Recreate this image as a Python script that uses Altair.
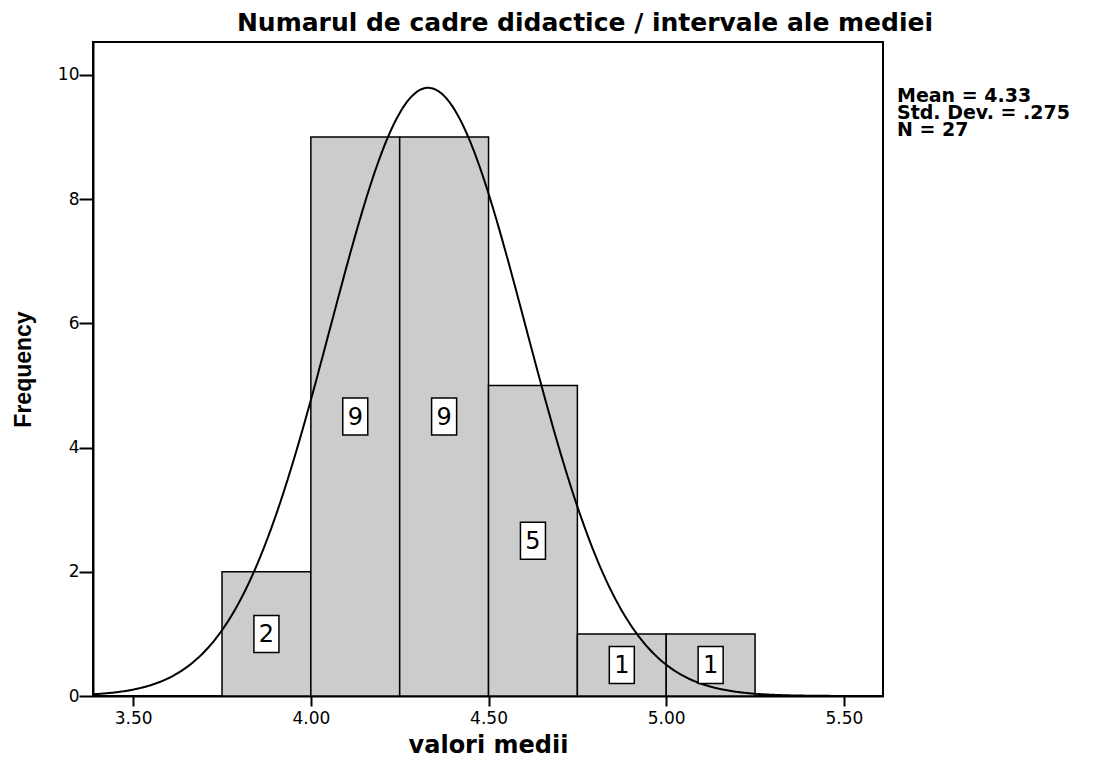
import altair as alt
import pandas as pd

# Data
bin_start = [3.75, 4.00, 4.25, 4.50, 4.75, 5.00]
bin_end = [4.00, 4.25, 4.50, 4.75, 5.00, 5.25]
counts = [2, 9, 9, 5, 1, 1]
x_ticks = [3.5, 4.0, 4.5, 5.0, 5.5]
y_ticks = [0, 2, 4, 6, 8, 10]
MEAN = 4.33
SD = 0.275
N = 27
BIN_W = 0.25
stats_lines = ["Mean = 4.33", "Std. Dev. = .275", "N = 27"]
title_text = "Numarul de cadre didactice / intervale ale mediei"

X_DOM = [3.387, 5.61]
Y_DOM = [0, 10.53]
W, H = 790, 654

bars = pd.DataFrame({"start": bin_start, "end": bin_end, "count": counts})
bars["mid"] = (bars["start"] + bars["end"]) / 2
bars["half"] = bars["count"] / 2
bars["label"] = bars["count"].astype(str)

xs = alt.Scale(domain=X_DOM, nice=False, zero=False)
ys = alt.Scale(domain=Y_DOM, nice=False, zero=True)

FONT = "Liberation Sans"
WIDE = "DejaVu Sans"

x_axis = alt.Axis(values=x_ticks, format=".2f", title="valori medii", grid=False,
                  tickSize=10, tickWidth=2, tickColor="black", domainColor="black",
                  domainWidth=2, labelFont=WIDE, labelFontSize=17, labelColor="black",
                  labelPadding=4, titleFont=WIDE, titleFontSize=24, titleFontWeight="bold",
                  titleColor="black", titlePadding=7)
y_axis = alt.Axis(values=y_ticks, format="d", title="Frequency", grid=False,
                  tickSize=14, tickWidth=2, tickColor="black", domainColor="black",
                  domainWidth=2, labelFont=WIDE, labelFontSize=17, labelColor="black",
                  labelPadding=0, titleFont=FONT, titleFontSize=23, titleFontWeight="bold",
                  titleColor="black", titlePadding=22)

hist = alt.Chart(bars).mark_rect(fill="#cccccc", stroke="black", strokeWidth=1.5).encode(
    x=alt.X("start:Q", scale=xs, axis=x_axis),
    x2="end:Q",
    y=alt.Y("count:Q", scale=ys, axis=y_axis),
    y2=alt.datum(0),
)

box = alt.Chart(bars).mark_point(
    shape="M-0.676,-1L0.676,-1L0.676,1L-0.676,1Z", size=1369,
    filled=True, fill="white", stroke="black", strokeWidth=1.5, opacity=1,
).encode(x=alt.X("mid:Q", scale=xs), y=alt.Y("half:Q", scale=ys))

labels = alt.Chart(bars).mark_text(font=WIDE, fontSize=24, color="black", baseline="middle",
                                   align="center", dy=1).encode(
    x=alt.X("mid:Q", scale=xs), y=alt.Y("half:Q", scale=ys), text="label:N")

curve = alt.Chart(alt.sequence(X_DOM[0], X_DOM[1] + 0.001, 0.004, as_="x")).transform_calculate(
    y=f"{N}*{BIN_W}/({SD}*sqrt(2*PI))*exp(-0.5*pow((datum.x-{MEAN})/{SD},2))"
).mark_line(color="black", strokeWidth=2).encode(
    x=alt.X("x:Q", scale=xs), y=alt.Y("y:Q", scale=ys))

stats = pd.DataFrame({"t": ["\n".join(stats_lines)]})
stats_text = alt.Chart(stats).mark_text(font=WIDE, fontWeight="bold", fontSize=19,
                                        lineBreak="\n", lineHeight=16.8,
                                        align="left", baseline="middle", color="black").encode(
    x=alt.value(W + 14),
    y=alt.value(54),
    text="t:N")

chart = alt.layer(hist, curve, box, labels, stats_text).properties(
    width=W, height=H,
    autosize="none",
    padding={"left": 85, "top": 34, "right": 210, "bottom": 62},
    title=alt.TitleParams(title_text, font=WIDE, fontSize=25, fontWeight="bold", color="black",
                          anchor="middle", frame="group", dx=97, offset=6),
).configure_view(stroke="black", strokeWidth=2)

chart.save("out.html", embed_options={"renderer": "svg", "actions": False})
